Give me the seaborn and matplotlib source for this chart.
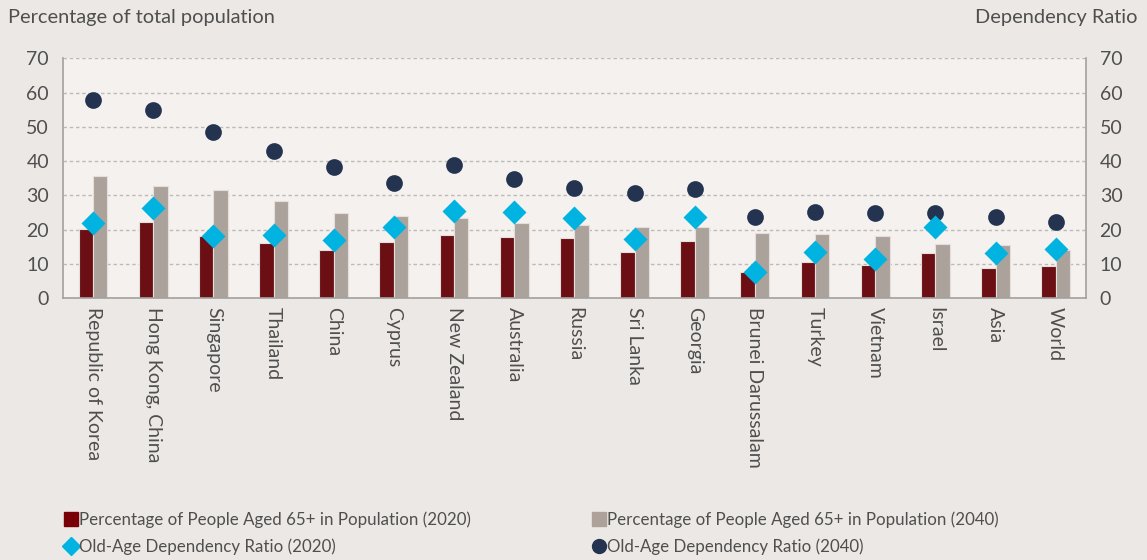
import numpy as np
import pandas as pd
import matplotlib.pyplot as plt
import seaborn as sns
from matplotlib.lines import Line2D

# Données
pays = ["Republic of Korea", "Hong Kong, China", "Singapore", "Thailand", "China",
        "Cyprus", "New Zealand", "Australia", "Russia", "Sri Lanka", "Georgia",
        "Brunei Darussalam", "Turkey", "Vietnam", "Israel", "Asia", "World"]
pct_2020 = [20.2, 22.2, 18.1, 16.1, 14.0, 16.3, 18.4, 17.8, 17.7, 13.4, 16.7,
            7.7, 10.6, 9.8, 13.1, 8.8, 9.3]
pct_2040 = [35.8, 32.8, 31.5, 28.4, 24.9, 23.9, 23.4, 21.9, 21.4, 20.9, 20.8,
            19.0, 18.7, 18.3, 15.9, 15.5, 14.1]
ratio_2020 = [22.1, 26.3, 18.2, 18.5, 17.0, 20.9, 25.6, 25.2, 23.5, 17.3, 23.6,
              7.8, 13.4, 11.5, 20.7, 13.1, 14.4]
ratio_2040 = [57.8, 54.9, 48.6, 43.1, 38.4, 33.5, 38.8, 34.7, 32.2, 30.6, 32.0,
              23.7, 25.2, 24.9, 24.8, 23.7, 22.2]

lbl_bar20 = "Percentage of People Aged 65+ in Population (2020)"
lbl_bar40 = "Percentage of People Aged 65+ in Population (2040)"
lbl_r20 = "Old-Age Dependency Ratio (2020)"
lbl_r40 = "Old-Age Dependency Ratio (2040)"

c_rouge = "#7A0008"
c_gris = "#ADA199"
c_cyan = "#00B3E0"
c_navy = "#233350"
c_texte = "#4F4F4F"

sns.set_style("white")
plt.rcParams['font.family'] = ['Lato', 'DejaVu Sans']

df_bar = pd.DataFrame({
    "pays": pays * 2,
    "valeur": pct_2020 + pct_2040,
    "serie": [lbl_bar20] * len(pays) + [lbl_bar40] * len(pays),
})
df_r20 = pd.DataFrame({"pays": pays, "valeur": ratio_2020})
df_r40 = pd.DataFrame({"pays": pays, "valeur": ratio_2040})

fig = plt.figure(figsize=(11.47, 5.6), dpi=100)
fig.patch.set_facecolor("#ECE8E5")
ax = fig.add_axes([0.0549, 0.4673, 0.8917, 0.4286])
ax.set_facecolor("#F4F1EE")

sns.barplot(data=df_bar, x="pays", y="valeur", hue="serie",
            palette=[c_rouge, c_gris], width=0.48, gap=0,
            edgecolor="#E6DEDA", linewidth=0.8, legend=False, ax=ax)

ax2 = ax.twinx()
ax2.patch.set_visible(False)
sns.pointplot(data=df_r40, x="pays", y="valeur", color=c_navy, marker="o",
              markersize=10, linestyle="none", errorbar=None, ax=ax2)
sns.pointplot(data=df_r20, x="pays", y="valeur", color=c_cyan, marker="D",
              markersize=10.5, linestyle="none", errorbar=None, ax=ax2)

for a in (ax, ax2):
    a.set_ylim(0, 70)
    a.set_yticks(np.arange(0, 71, 10))
    a.set_xlim(-0.5, len(pays) - 0.5)
    a.set_xlabel("")
    a.set_ylabel("")
    a.tick_params(axis="y", length=0, labelsize=14, labelcolor=c_texte, pad=10)
    for s in a.spines.values():
        s.set_visible(False)

ax.yaxis.grid(True, color="#BDBAB7", linestyle=(0, (2.5, 2)), linewidth=1)
ax.set_axisbelow(True)
ax.spines["left"].set_visible(True)
ax.spines["bottom"].set_visible(True)
ax2.spines["right"].set_visible(True)
for s in (ax.spines["left"], ax.spines["bottom"], ax2.spines["right"]):
    s.set_color("#A3A09E")
    s.set_linewidth(1.2)

ax.set_xticks(range(len(pays)))
ax.set_xticklabels(pays, rotation=-90, ha="center", va="top",
                   fontsize=14, color=c_texte)
ax.tick_params(axis="x", length=0, pad=6)

fig.text(0.007, 0.968, "Percentage of total population", fontsize=14.4,
         color=c_texte, ha="left", va="center")
fig.text(0.992, 0.968, "Dependency Ratio", fontsize=14.4,
         color=c_texte, ha="right", va="center")

h1 = [Line2D([], [], marker="s", linestyle="none", color=c_rouge, markersize=10),
      Line2D([], [], marker="D", linestyle="none", color=c_cyan, markersize=9)]
h2 = [Line2D([], [], marker="s", linestyle="none", color=c_gris, markersize=10),
      Line2D([], [], marker="o", linestyle="none", color=c_navy, markersize=10)]
opts = dict(frameon=False, fontsize=12.2, handlelength=0.8, handletextpad=0.1,
            labelspacing=0.6, borderaxespad=0, borderpad=0, labelcolor=c_texte)
fig.legend(h1, [lbl_bar20, lbl_r20], loc="upper left",
           bbox_to_anchor=(0.056, 0.086), **opts)
fig.legend(h2, [lbl_bar40, lbl_r40], loc="upper left",
           bbox_to_anchor=(0.516, 0.086), **opts)

fig.savefig("out.png", dpi=100, facecolor=fig.get_facecolor())
